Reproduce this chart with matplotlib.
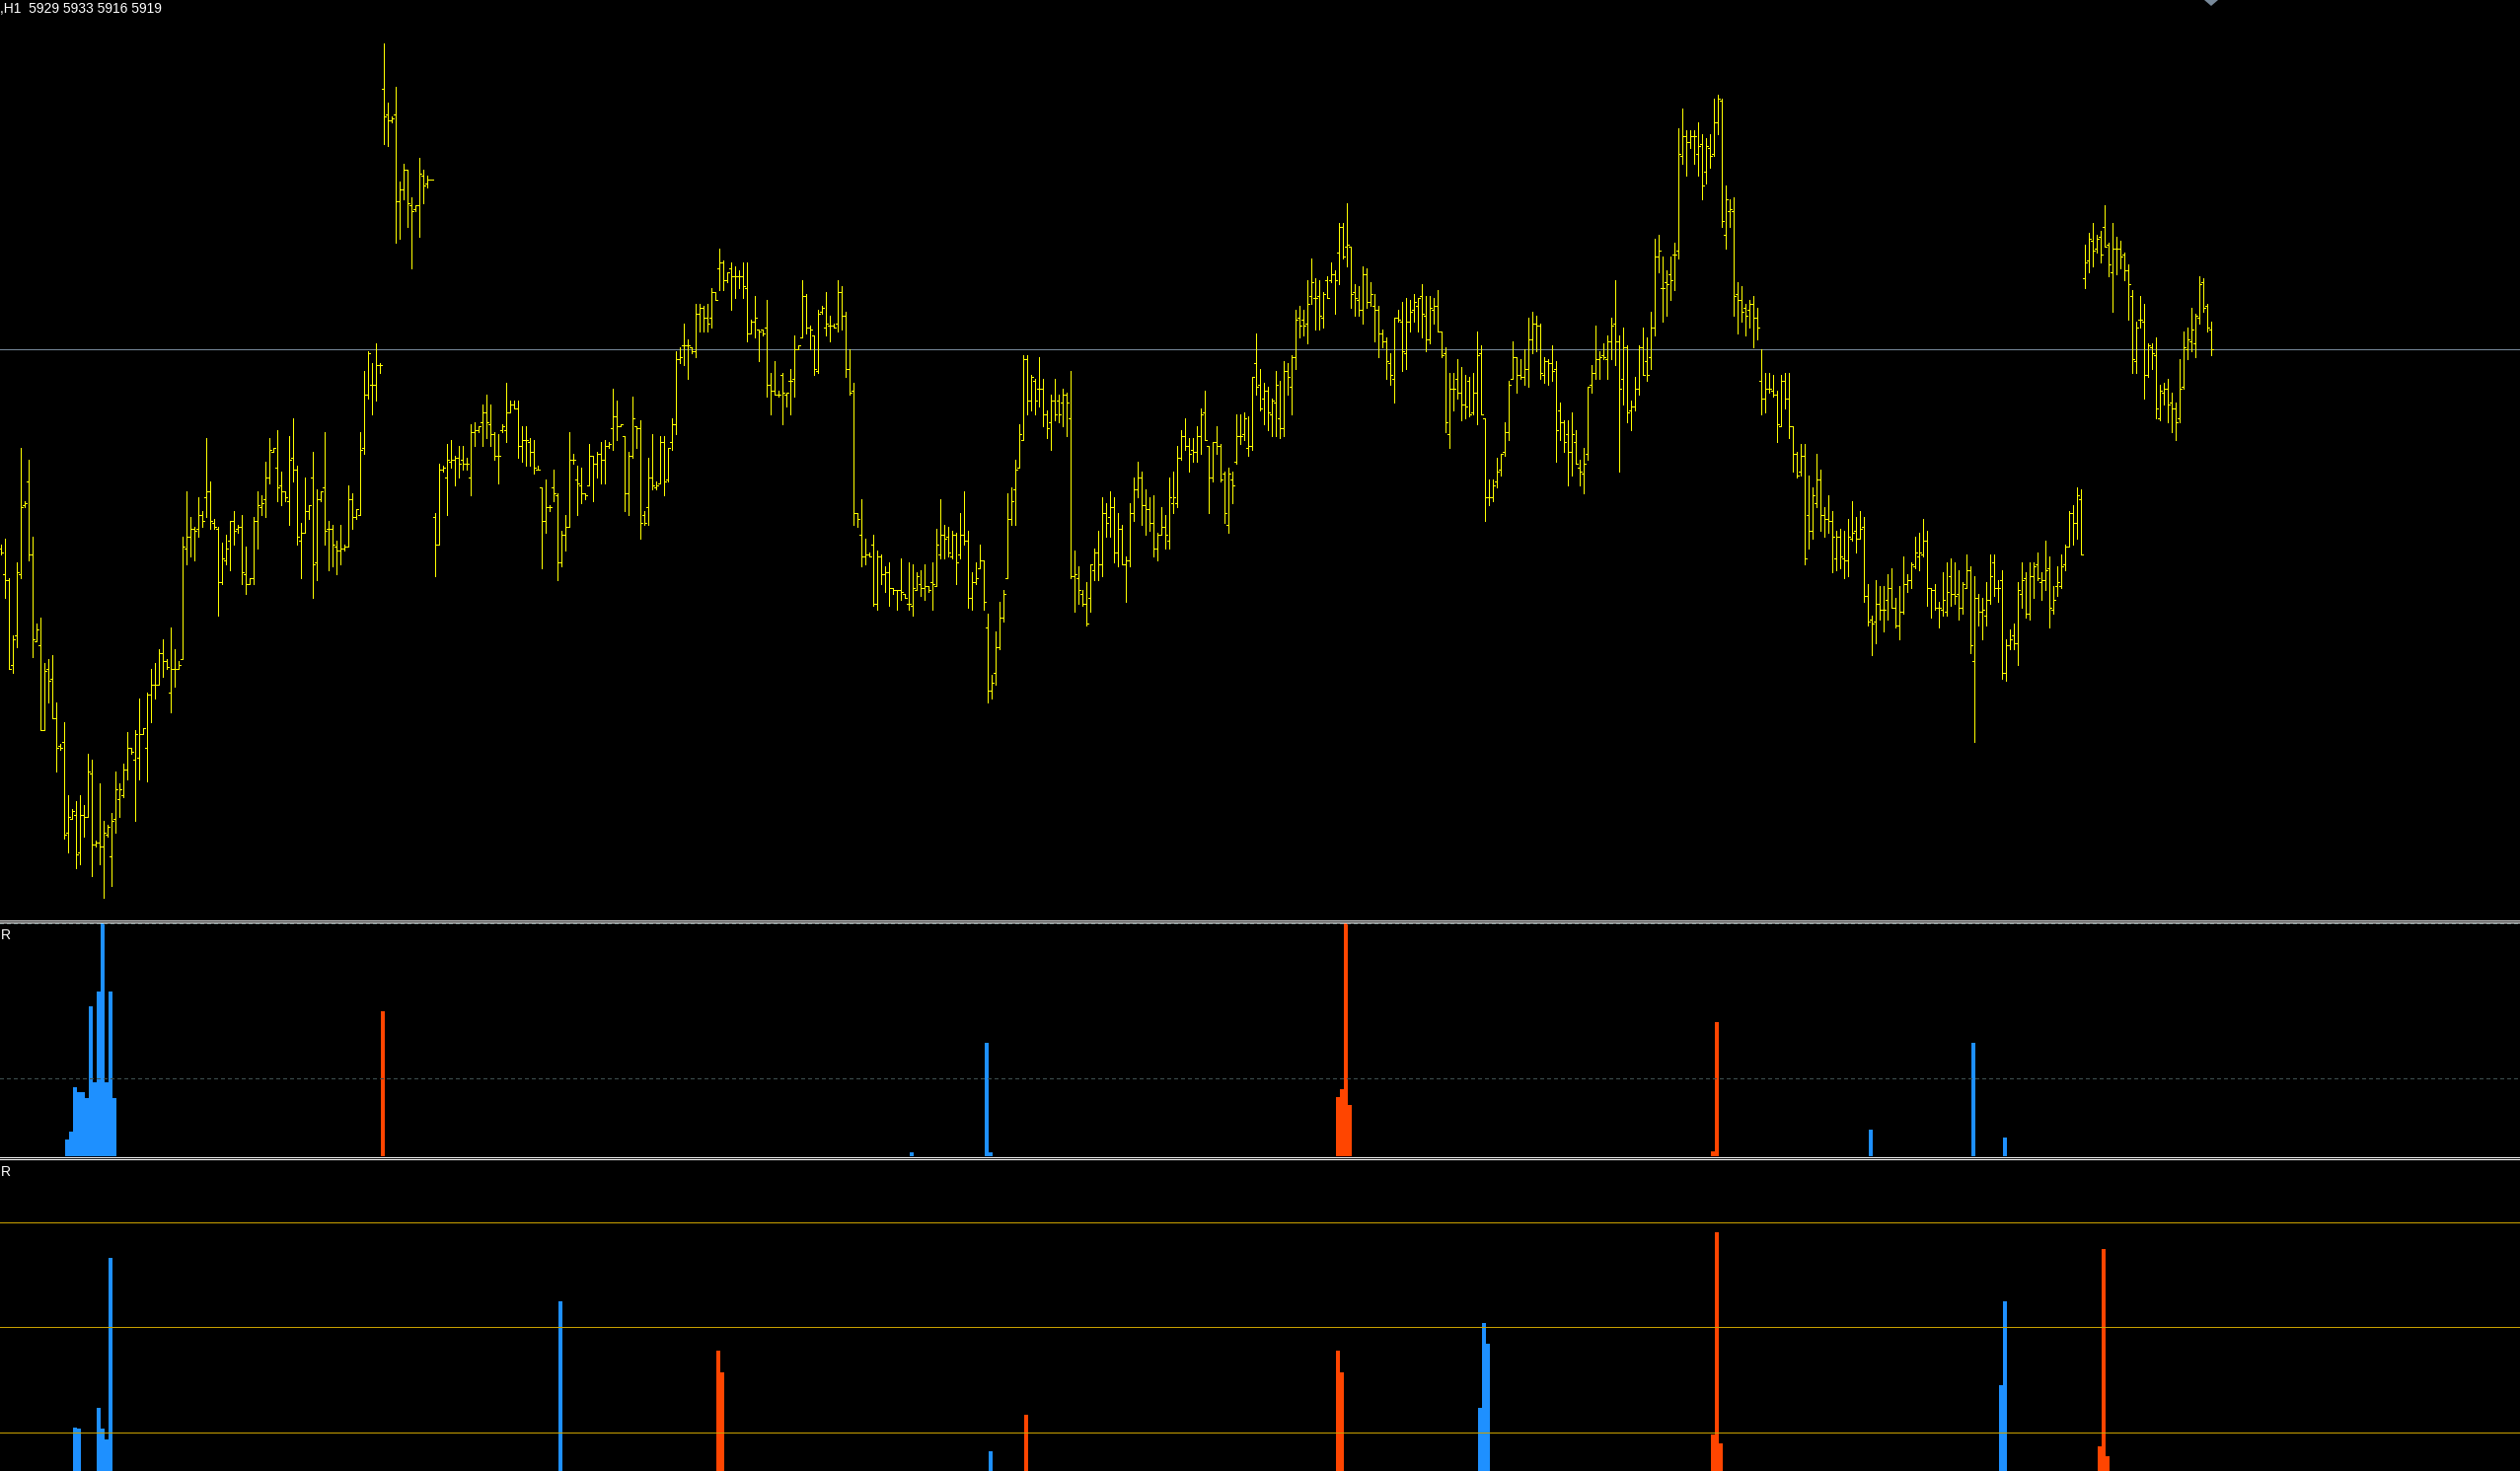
import numpy as np
import matplotlib.pyplot as plt
from matplotlib.lines import Line2D
from matplotlib.patches import Polygon

# H1 bars: open, high, low, close (one entry per bar)
opens = [5818,5805,5802,5759,5774,5805,5840,5852,5815,5771,5769,5726,5757,5752,5732,5718,5720,5674,5681,5683,
         5664,5683,5682,5704,5668,5669,5667,5673,5662,5681,5691,5693,5706,5717,5711,5712,5724,5717,5744,5749,
         5749,5765,5761,5745,5757,5757,5762,5818,5824,5828,5828,5835,5844,5847,5831,5828,5801,5812,5822,5832,
         5828,5829,5805,5800,5803,5832,5839,5843,5854,5867,5859,5850,5847,5842,5864,5858,5822,5826,5837,5854,
         5811,5843,5849,5828,5828,5819,5817,5818,5819,5843,5834,5835,5869,5896,5901,5901,5911,6051,6038,6035,
         6038,5994,6000,6010,5992,5990,5992,6007,6003,6005,5834,5820,5858,5854,5862,5863,5864,5863,5861,5854,
         5877,5878,5882,5887,5881,5876,5865,5878,5878,5887,5891,5889,5870,5873,5872,5867,5858,5849,5832,5839,
         5849,5845,5811,5825,5829,5863,5853,5850,5846,5850,5865,5861,5866,5863,5870,5879,5885,5880,5875,5846,
         5865,5880,5879,5835,5839,5854,5849,5851,5872,5853,5872,5881,5914,5921,5921,5920,5918,5937,5940,5935,
         5935,5948,5960,5963,5954,5960,5956,5956,5956,5950,5927,5933,5929,5929,5930,5901,5898,5896,5906,5896,
         5903,5904,5919,5925,5946,5930,5926,5908,5938,5930,5931,5931,5932,5948,5936,5909,5898,5836,5825,5814,
         5815,5820,5790,5814,5805,5806,5798,5797,5797,5795,5790,5789,5797,5800,5798,5799,5801,5799,5815,5825,
         5824,5814,5825,5815,5825,5822,5793,5801,5808,5812,5778,5746,5755,5768,5783,5803,5833,5848,5859,5873,
         5914,5893,5903,5899,5899,5886,5882,5893,5893,5892,5896,5884,5804,5803,5795,5790,5793,5807,5816,5810,
         5836,5834,5839,5816,5828,5810,5812,5836,5848,5854,5840,5838,5831,5818,5825,5829,5822,5841,5841,5864,
         5875,5870,5868,5867,5875,5887,5870,5854,5872,5870,5856,5830,5853,5862,5875,5876,5869,5870,5912,5901,
         5894,5898,5886,5892,5884,5879,5908,5900,5915,5935,5934,5932,5946,5945,5946,5935,5954,5954,5957,5968,
         5981,5971,5971,5948,5944,5939,5957,5943,5941,5939,5927,5923,5912,5904,5935,5933,5917,5933,5939,5941,
         5946,5936,5924,5939,5941,5928,5917,5876,5899,5904,5897,5891,5903,5887,5897,5917,5884,5844,5844,5852,
         5858,5867,5877,5904,5915,5906,5905,5909,5924,5932,5931,5906,5913,5912,5909,5888,5882,5876,5867,5872,
         5859,5856,5866,5901,5907,5914,5916,5914,5923,5932,5923,5904,5920,5888,5890,5899,5920,5913,5915,5930,
         5966,5950,5953,5957,5967,5969,6017,6027,6024,6027,6018,6023,6009,6021,6018,6034,6045,5977,5989,5989,
         5947,5944,5940,5939,5942,5935,5903,5894,5899,5898,5896,5880,5903,5894,5880,5866,5857,5865,5835,5827,
         5841,5853,5835,5833,5832,5813,5824,5813,5812,5823,5827,5823,5829,5794,5782,5781,5790,5787,5792,5798,
         5788,5779,5786,5800,5802,5809,5814,5815,5822,5798,5797,5788,5787,5786,5804,5795,5795,5788,5798,5807,
         5761,5793,5786,5784,5792,5811,5798,5802,5755,5769,5774,5770,5795,5803,5785,5804,5810,5801,5802,5808,
         5787,5799,5799,5810,5819,5836,5831,5843,5955,5964,5974,5970,5976,5981,5972,5958,5970,5970,5967,5959,
         5946,5913,5934,5933,5906,5920,5916,5884,5897,5899,5892,5889,5884,5900,5919,5923,5922,5935,5953,5941,
         5929]
highs = [5820,5823,5803,5774,5811,5869,5842,5863,5824,5780,5783,5760,5762,5764,5740,5719,5730,5693,5686,5690,
         5693,5688,5714,5711,5670,5699,5680,5678,5684,5705,5699,5709,5725,5717,5726,5742,5727,5745,5757,5760,
         5767,5772,5762,5778,5767,5761,5824,5847,5834,5829,5844,5837,5874,5852,5833,5829,5821,5825,5832,5837,
         5830,5835,5819,5803,5834,5847,5845,5862,5874,5869,5878,5857,5847,5875,5884,5860,5831,5854,5840,5867,
         5848,5847,5877,5832,5830,5822,5830,5820,5850,5846,5838,5877,5908,5918,5912,5922,5912,6074,6044,6037,
         6052,6004,6013,6010,5996,5992,6016,6010,6007,6005,5836,5861,5860,5871,5873,5865,5870,5870,5864,5881,
         5882,5880,5891,5896,5891,5877,5876,5881,5902,5893,5893,5893,5880,5880,5874,5873,5860,5849,5853,5840,
         5858,5846,5827,5835,5877,5866,5860,5859,5846,5871,5865,5867,5872,5873,5872,5899,5893,5881,5875,5867,
         5895,5880,5883,5837,5864,5876,5852,5875,5875,5869,5884,5918,5920,5932,5924,5920,5942,5942,5941,5942,
         5950,5948,5970,5964,5958,5963,5961,5959,5963,5963,5934,5946,5929,5929,5944,5907,5913,5898,5907,5897,
         5909,5926,5921,5954,5947,5931,5926,5939,5941,5948,5936,5932,5954,5951,5938,5919,5902,5836,5843,5823,
         5816,5825,5817,5815,5809,5811,5798,5797,5813,5795,5811,5810,5806,5807,5810,5799,5811,5828,5843,5830,
         5829,5827,5826,5836,5847,5827,5806,5811,5820,5812,5785,5754,5776,5791,5797,5846,5849,5863,5881,5916,
         5916,5906,5904,5915,5904,5888,5896,5904,5896,5899,5897,5908,5817,5809,5797,5801,5810,5818,5827,5844,
         5841,5847,5844,5836,5830,5814,5841,5854,5862,5857,5848,5844,5845,5826,5839,5835,5854,5857,5870,5878,
         5884,5874,5874,5880,5889,5898,5870,5872,5880,5871,5857,5859,5857,5886,5886,5887,5885,5905,5927,5909,
         5902,5900,5894,5908,5903,5913,5912,5916,5939,5941,5939,5954,5965,5955,5954,5948,5956,5963,5959,5983,
         5983,5993,5971,5952,5951,5961,5960,5953,5947,5941,5929,5925,5917,5935,5939,5943,5945,5944,5947,5945,
         5952,5946,5946,5945,5949,5928,5920,5907,5907,5914,5910,5906,5905,5907,5928,5921,5884,5853,5853,5864,
         5866,5882,5903,5923,5915,5914,5919,5935,5938,5936,5932,5915,5914,5921,5913,5892,5883,5883,5887,5878,
         5863,5869,5900,5911,5931,5918,5922,5926,5935,5954,5926,5930,5921,5893,5905,5921,5930,5925,5938,5975,
         5977,5966,5959,5966,5973,6031,6041,6030,6030,6030,6034,6028,6026,6028,6046,6048,6046,6002,5995,5996,
         5953,5951,5942,5944,5946,5940,5919,5907,5907,5906,5898,5906,5907,5907,5880,5867,5871,5871,5855,5849,
         5866,5858,5839,5845,5837,5827,5828,5827,5833,5842,5834,5837,5834,5800,5784,5802,5799,5799,5805,5808,
         5793,5799,5814,5805,5811,5824,5826,5833,5827,5798,5800,5791,5806,5811,5813,5811,5807,5801,5815,5809,
         5804,5795,5793,5801,5815,5815,5802,5807,5772,5777,5780,5801,5811,5806,5811,5811,5816,5806,5822,5814,
         5799,5809,5815,5820,5837,5840,5849,5848,5972,5978,5983,5977,5979,5992,5973,5983,5976,5974,5968,5962,
         5949,5933,5946,5942,5922,5922,5925,5901,5902,5904,5897,5892,5914,5928,5930,5940,5937,5956,5955,5942,
         5933]
lows = [5815,5793,5757,5755,5768,5803,5839,5812,5763,5771,5726,5726,5740,5732,5705,5716,5671,5664,5681,5656,
        5658,5672,5682,5652,5667,5658,5641,5672,5647,5674,5682,5692,5701,5714,5680,5701,5724,5700,5730,5742,
        5749,5753,5757,5735,5748,5757,5762,5810,5814,5812,5824,5829,5834,5828,5828,5784,5800,5810,5807,5820,
        5826,5800,5795,5800,5800,5818,5835,5834,5851,5867,5842,5840,5842,5830,5852,5820,5803,5826,5833,5793,
        5802,5842,5820,5807,5809,5805,5810,5817,5819,5828,5833,5835,5866,5894,5886,5893,5907,6023,6022,6034,
        5973,5975,5995,5981,5960,5989,5976,5993,6001,6005,5804,5820,5857,5835,5859,5850,5854,5858,5858,5845,
        5870,5877,5870,5874,5870,5863,5851,5877,5872,5887,5889,5864,5862,5860,5860,5856,5858,5808,5826,5837,
        5842,5802,5809,5817,5829,5861,5835,5841,5843,5850,5842,5854,5851,5851,5869,5868,5873,5880,5837,5835,
        5864,5869,5823,5830,5830,5848,5848,5851,5845,5852,5868,5876,5912,5911,5904,5917,5915,5928,5928,5928,
        5930,5944,5949,5949,5953,5939,5945,5950,5945,5923,5927,5925,5913,5926,5895,5886,5896,5895,5881,5890,
        5886,5895,5919,5925,5927,5919,5906,5907,5937,5926,5923,5930,5928,5929,5905,5896,5830,5829,5809,5810,
        5814,5789,5787,5800,5796,5789,5795,5787,5792,5793,5787,5784,5797,5794,5792,5796,5787,5799,5813,5813,
        5814,5813,5800,5813,5820,5788,5787,5800,5808,5787,5740,5742,5749,5767,5781,5803,5830,5830,5859,5873,
        5886,5888,5886,5890,5880,5874,5868,5883,5882,5880,5875,5803,5786,5790,5789,5779,5786,5802,5802,5804,
        5824,5824,5811,5809,5810,5791,5809,5832,5844,5830,5825,5827,5814,5812,5825,5818,5818,5836,5839,5863,
        5868,5857,5862,5862,5866,5873,5836,5852,5866,5852,5831,5826,5841,5861,5871,5873,5865,5868,5896,5888,
        5881,5878,5875,5875,5874,5875,5896,5886,5909,5925,5926,5922,5942,5929,5929,5930,5945,5953,5937,5952,
        5965,5961,5940,5936,5936,5932,5940,5941,5923,5915,5920,5904,5901,5892,5933,5908,5909,5928,5933,5928,
        5925,5918,5922,5932,5928,5915,5877,5869,5888,5894,5883,5884,5885,5886,5881,5886,5832,5840,5842,5849,
        5855,5865,5873,5904,5897,5904,5901,5900,5917,5918,5904,5902,5901,5903,5862,5873,5867,5850,5855,5861,
        5850,5846,5863,5897,5904,5904,5914,5904,5914,5911,5857,5891,5882,5878,5888,5896,5906,5903,5909,5926,
        5958,5933,5936,5944,5949,5965,6013,6007,6021,6013,6007,5995,6003,6011,6017,6028,5981,5970,5981,5936,
        5927,5933,5926,5930,5920,5924,5886,5887,5897,5895,5872,5880,5889,5874,5857,5854,5855,5810,5818,5823,
        5839,5827,5824,5826,5806,5807,5808,5803,5804,5822,5816,5823,5791,5779,5764,5770,5782,5776,5782,5788,
        5778,5772,5785,5796,5798,5808,5807,5814,5789,5783,5787,5778,5784,5784,5789,5790,5782,5785,5798,5765,
        5720,5779,5772,5779,5790,5794,5791,5752,5751,5767,5767,5759,5788,5783,5782,5793,5802,5792,5797,5778,
        5785,5794,5798,5807,5819,5820,5823,5815,5950,5958,5961,5968,5963,5971,5956,5938,5957,5960,5954,5934,
        5907,5907,5930,5894,5905,5909,5884,5883,5891,5882,5877,5873,5882,5899,5914,5918,5915,5932,5938,5928,
        5916]
closes = [5816,5802,5757,5772,5806,5839,5841,5815,5772,5777,5726,5756,5751,5732,5717,5717,5673,5682,5685,5663,
          5683,5682,5705,5668,5669,5667,5674,5677,5680,5696,5696,5706,5717,5715,5724,5724,5727,5744,5749,5749,
          5765,5761,5758,5757,5757,5759,5819,5824,5828,5827,5835,5832,5847,5832,5829,5801,5813,5818,5832,5827,
          5829,5806,5800,5803,5832,5840,5841,5854,5868,5869,5849,5847,5844,5863,5858,5824,5826,5837,5840,5810,
          5843,5847,5827,5828,5820,5817,5818,5819,5843,5834,5838,5868,5896,5917,5901,5911,5911,6037,6035,6036,
          5994,6000,6010,5993,5989,5992,6008,6002,6005,6005,5820,5858,5859,5863,5863,5864,5861,5861,5861,5877,
          5878,5880,5887,5882,5876,5865,5865,5880,5887,5891,5889,5870,5873,5873,5867,5859,5858,5832,5839,5839,
          5846,5811,5825,5829,5863,5863,5851,5846,5845,5865,5861,5866,5863,5870,5871,5885,5880,5881,5846,5865,
          5884,5879,5831,5831,5854,5850,5850,5872,5852,5869,5881,5914,5915,5921,5921,5918,5937,5940,5935,5932,
          5948,5944,5963,5954,5958,5956,5956,5956,5951,5927,5933,5935,5928,5927,5901,5898,5896,5896,5897,5897,
          5903,5919,5921,5946,5930,5929,5909,5937,5940,5932,5931,5930,5948,5936,5909,5897,5836,5833,5814,5815,
          5814,5790,5814,5805,5806,5798,5797,5797,5796,5793,5790,5798,5804,5798,5799,5797,5800,5820,5825,5823,
          5816,5825,5811,5825,5822,5793,5801,5803,5812,5791,5746,5750,5768,5783,5795,5833,5842,5858,5876,5914,
          5893,5905,5893,5899,5886,5879,5893,5886,5886,5896,5892,5804,5805,5797,5790,5780,5810,5816,5810,5836,
          5831,5839,5816,5828,5810,5812,5836,5848,5854,5840,5838,5831,5818,5825,5829,5825,5844,5844,5864,5875,
          5870,5866,5867,5875,5886,5873,5854,5872,5870,5853,5836,5856,5850,5875,5875,5884,5870,5905,5900,5889,
          5898,5887,5893,5901,5879,5908,5905,5915,5934,5931,5931,5942,5953,5945,5936,5947,5945,5957,5954,5981,
          5966,5972,5947,5945,5939,5957,5943,5947,5939,5927,5923,5913,5906,5935,5934,5918,5933,5938,5943,5945,
          5937,5924,5940,5941,5928,5916,5882,5899,5899,5897,5891,5890,5886,5897,5916,5886,5844,5844,5850,5857,
          5866,5877,5901,5915,5906,5905,5909,5924,5932,5931,5907,5913,5912,5908,5878,5882,5872,5867,5876,5861,
          5857,5861,5900,5907,5914,5915,5915,5923,5931,5923,5899,5920,5887,5890,5899,5920,5906,5906,5930,5966,
          5969,5950,5952,5954,5967,6018,6027,6024,6027,6027,6022,6002,6022,6017,6034,6046,5984,5995,5990,5946,
          5944,5938,5936,5942,5935,5930,5894,5899,5899,5896,5881,5903,5894,5880,5866,5855,5865,5813,5827,5845,
          5853,5835,5833,5832,5824,5824,5814,5812,5824,5826,5823,5828,5794,5781,5780,5790,5787,5787,5798,5788,
          5779,5786,5800,5802,5810,5816,5816,5822,5798,5797,5788,5788,5792,5796,5795,5794,5788,5800,5807,5769,
          5793,5786,5787,5792,5804,5798,5798,5755,5769,5772,5770,5797,5802,5785,5804,5809,5803,5802,5807,5788,
          5792,5801,5809,5819,5836,5831,5845,5815,5963,5975,5969,5975,5967,5971,5962,5970,5970,5966,5959,5952,
          5914,5930,5934,5906,5921,5917,5889,5898,5899,5891,5889,5882,5899,5920,5924,5929,5936,5952,5940,5930,
          5919]

# first sub-window histogram (bar index, value)
ind1_blue_idx = [17, 18, 19, 20, 21, 22, 23, 24, 25, 26, 27, 28, 29, 231, 250, 251, 474, 500, 508]
ind1_blue_val = [10.8, 15.8, 44.3, 41, 41, 37.3, 96, 47.5, 106, 150, 47.5, 106, 37.3, 2.5, 73, 2.5, 17, 73, 12]
ind1_red_idx = [97, 339, 340, 341, 342, 434, 435]
ind1_red_val = [93, 38, 43, 150, 33, 3, 86]
ind1_levels = [49.7, 149.6]

# second sub-window histogram
ind2_blue_idx = [19, 20, 25, 26, 27, 28, 142, 251, 375, 376, 377, 507, 508]
ind2_blue_val = [1.04, 1.03, 1.23, 1.03, 0.93, 2.66, 2.24, 0.82, 1.23, 2.04, 1.84, 1.45, 2.24]
ind2_red_idx = [182, 183, 260, 339, 340, 434, 435, 436, 532, 533, 534]
ind2_red_val = [1.77, 1.57, 1.16, 1.77, 1.57, 0.98, 2.90, 0.89, 0.86, 2.74, 0.77]
ind2_levels = [1, 2, 3]

header = ",H1  5929 5933 5916 5919"

W, H = 2554, 1491
BAR = '#ffff00'
BLUE = '#1e90ff'
RED = '#ff4500'
LW = 0.72

fig = plt.figure(figsize=(W / 100, H / 100), dpi=100, facecolor='black')


def panel(top, bottom):
    a = fig.add_axes([0, 1 - bottom / H, 1, (bottom - top) / H])
    a.set_facecolor('black')
    a.set_xlim(-0.125, -0.125 + W / 4)
    a.set_axis_off()
    return a


# price window
ax = panel(0, 932)
ax.set_ylim(5630, 6096)
idx = np.arange(len(closes))
ax.vlines(idx, lows, highs, colors=BAR, lw=LW, antialiased=False)
ax.hlines(opens, idx - 0.5, idx, colors=BAR, lw=LW, antialiased=False)
ax.hlines(closes, idx, idx + 0.5, colors=BAR, lw=LW, antialiased=False)
ax.axhline(closes[-1], color='#778899', lw=LW, antialiased=False, zorder=0)

# sub-window 1
ax1 = panel(935, 1172)
ax1.set_ylim(0, 150)
for lv in ind1_levels:
    ax1.axhline(lv, color='#3f5050', lw=LW, ls=(0, (3, 3)), antialiased=False)
ax1.bar(np.array(ind1_blue_idx) - 0.125, ind1_blue_val, width=1.0, color=BLUE, lw=0, antialiased=False)
ax1.bar(np.array(ind1_red_idx) - 0.125, ind1_red_val, width=1.0, color=RED, lw=0, antialiased=False)

# sub-window 2
ax2 = panel(1175, H)
ax2.set_ylim((1558 - H) / 106.5, (1558 - 1175) / 106.5)
for lv in ind2_levels:
    ax2.axhline(lv, color='#c8a000', lw=LW, antialiased=False)
ax2.bar(np.array(ind2_blue_idx) - 0.125, ind2_blue_val, width=1.0, color=BLUE, lw=0, antialiased=False)
ax2.bar(np.array(ind2_red_idx) - 0.125, ind2_red_val, width=1.0, color=RED, lw=0, antialiased=False)

# window separators
for y in [932.5, 934.5, 1172.5, 1174.5]:
    fig.add_artist(Line2D([0, 1], [1 - y / H] * 2, transform=fig.transFigure,
                          color='white', lw=LW, antialiased=False))

# chart shift marker
fig.add_artist(Polygon([[2234 / W, 1], [2248 / W, 1], [2241 / W, 1 - 6 / H]],
                       closed=True, transform=fig.transFigure, color='#778899', lw=0))

fig.text(0, 1 - 2 / H, header, color='white', fontsize=10, family='Liberation Sans', va='top')
fig.text(1 / W, 1 - 941 / H, 'R', color='white', fontsize=10, family='Liberation Sans', va='top')
fig.text(1 / W, 1 - 1181 / H, 'R', color='white', fontsize=10, family='Liberation Sans', va='top')

fig.savefig('out.png', dpi=100, facecolor='black')
